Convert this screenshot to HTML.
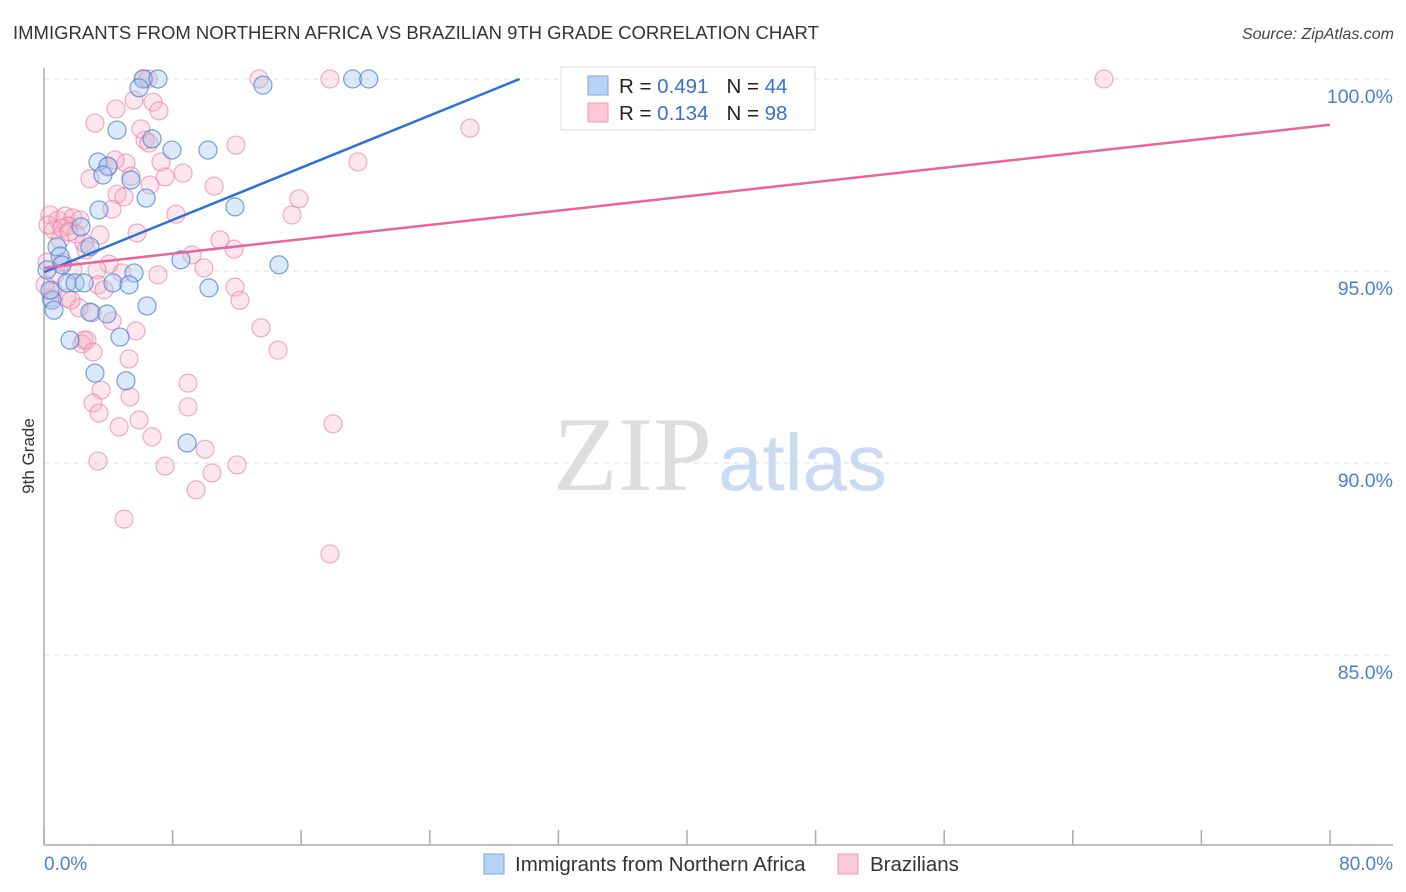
<!DOCTYPE html>
<html><head><meta charset="utf-8"><style>
body{margin:0;background:#fff;font-family:"Liberation Sans",sans-serif}
svg{display:block}
</style></head><body>
<svg id="chart" width="1406" height="892" viewBox="0 0 1406 892" xmlns="http://www.w3.org/2000/svg">
<text x="13" y="39" font-size="18.5" fill="#333" font-family="Liberation Sans">IMMIGRANTS FROM NORTHERN AFRICA VS BRAZILIAN 9TH GRADE CORRELATION CHART</text>
<text x="1394" y="39" font-size="16" fill="#444" font-style="italic" text-anchor="end">Source: ZipAtlas.com</text>
<g id="grid"></g>
<g>
<text x="553" y="490" font-size="106" fill="#ddd" font-family="Liberation Serif">ZIP</text>
<text x="718" y="490" font-size="80" fill="#c9daf2" font-family="Liberation Sans">atlas</text>
</g>
<line x1="44" y1="68" x2="44" y2="845" stroke="#aaa" stroke-width="1.5"/>
<line x1="44" y1="845" x2="1393" y2="845" stroke="#aaa" stroke-width="1.5"/>
<g id="ticks"></g>
<g id="ylabels"></g>
<g id="pinkPts"></g>
<g id="bluePts"></g>
<g id="trends"></g>
<text transform="translate(34,456) rotate(-90)" font-size="17" fill="#333" text-anchor="middle">9th Grade</text>
<text x="44" y="870" font-size="19" fill="#4a7fd4">0.0%</text>
<text x="1393" y="870" font-size="19" fill="#4a7fd4" text-anchor="end">80.0%</text>
<g>
<rect x="561" y="67" width="254" height="63" fill="#fff" stroke="#ddd"/>
<rect x="588" y="76" width="20" height="19" fill="#b8d3f5" stroke="#7aa6e3"/>
<rect x="588" y="103" width="20" height="19" fill="#fac8d6" stroke="#ec9ab4"/>
<text x="619" y="93" font-size="20.5" fill="#222">R = <tspan fill="#3a70cc">0.491</tspan><tspan dx="18">N = </tspan><tspan fill="#3a70cc">44</tspan></text>
<text x="619" y="120" font-size="20.5" fill="#222">R = <tspan fill="#3a70cc">0.134</tspan><tspan dx="18">N = </tspan><tspan fill="#3a70cc">98</tspan></text>
</g>
<g>
<rect x="484" y="854" width="20" height="20" fill="#b8d3f5" stroke="#7aa6e3"/>
<text x="515" y="871" font-size="20.5" fill="#333">Immigrants from Northern Africa</text>
<rect x="838" y="854" width="20" height="20" fill="#fac8d6" stroke="#ec9ab4"/>
<text x="870" y="871" font-size="20.5" fill="#333">Brazilians</text>
</g>
</svg>
<script>
const yTicks=[100,95,90,85];
const yTickLabels=["100.0%","95.0%","90.0%","85.0%"];
const xTicks=[0,8,16,24,32,40,48,56,64,72,80];
const blueX=[6.16,7.09,19.2,20.2,13.62,5.91,4.54,6.72,7.96,10.2,3.36,3.98,3.67,5.41,6.35,3.42,11.88,2.30,0.81,2.86,1.0,8.52,14.62,0.19,5.6,1.43,1.93,2.49,4.29,5.29,10.26,0.5,0.62,6.41,2.86,3.92,1.62,4.73,3.17,5.1,8.9,41.1,1.12,0.37];
const blueY=[100,100,100,100,99.84,99.77,98.67,98.44,98.15,98.15,97.84,97.73,97.5,97.37,96.9,96.59,96.67,96.15,95.63,95.63,95.39,95.29,95.16,95.03,94.95,94.69,94.69,94.69,94.69,94.64,94.56,94.24,93.98,94.09,93.93,93.88,93.2,93.28,92.34,92.14,90.52,99.97,95.16,94.5];
const pinkX=[6.22,6.47,13.38,17.79,65.94,6.78,4.48,5.6,7.15,3.17,26.5,11.94,6.28,6.53,6.03,7.28,5.1,4.42,3.98,19.53,2.86,5.41,7.53,8.65,6.59,10.58,4.54,4.98,15.86,4.23,8.21,15.43,0.37,0.87,1.31,1.8,2.24,0.62,1.49,1.99,2.49,5.79,10.95,11.82,1.0,0.25,1.12,1.56,9.21,4.04,3.3,1.8,4.85,7.09,9.95,3.36,3.73,11.88,0.44,1.43,12.19,2.18,2.99,4.23,5.72,13.5,2.49,2.36,2.67,3.05,5.29,14.56,8.96,3.55,5.35,3.05,8.96,3.42,5.91,17.98,4.67,6.72,3.36,10.02,7.53,10.45,12.01,9.46,4.98,17.79,0.56,0.06,1.18,2.61,3.48,0.19,0.68,1.68];
const pinkY=[100,100,100,100,100,99.4,99.22,99.45,99.17,98.85,98.72,98.28,98.41,98.33,98.7,97.84,97.81,97.89,97.71,97.84,97.4,97.47,97.45,97.55,97.24,97.21,97.0,96.93,96.88,96.61,96.48,96.46,96.46,96.33,96.43,96.38,96.33,96.07,96.17,95.96,95.73,95.99,95.81,95.57,95.81,96.2,96.12,96.02,95.42,95.18,95.03,95.03,94.95,94.9,95.08,94.64,94.51,94.58,94.3,94.3,94.24,94.04,93.91,93.7,93.44,93.52,93.2,93.1,93.2,92.89,92.71,92.94,92.08,91.9,91.72,91.56,91.46,91.3,91.12,91.02,90.94,90.68,90.05,90.36,89.92,89.74,89.95,89.3,88.54,87.63,94.5,94.64,95.23,95.55,95.94,95.23,94.9,94.24];
const blueTrend=[94.97,0.17];
const pinkTrend=[95.08,0.0466];
const NS="http://www.w3.org/2000/svg";
function sx(v){return 44+v/80*1286;}
function sy(v){return 79+(100-v)*38.4;}
function mk(tag,attrs,parent){const e=document.createElementNS(NS,tag);for(const k in attrs)e.setAttribute(k,attrs[k]);parent.appendChild(e);return e;}
const grid=document.getElementById('grid'),yl=document.getElementById('ylabels'),tk=document.getElementById('ticks');
yTicks.forEach((t,i)=>{
 const l=mk('line',{x1:44,x2:1393,y1:sy(t),y2:sy(t),stroke:'#ddd','stroke-dasharray':'5,5'},grid);
 
 
 const tx=mk('text',{x:1393,y:sy(t)+24,'font-size':19.5,fill:'#4a7fd4','text-anchor':'end'},yl);
 tx.textContent=yTickLabels[i];
 
 
});
xTicks.forEach(t=>{
 const l=mk('line',{x1:sx(t),x2:sx(t),y1:830,y2:845,stroke:'#aaa','stroke-width':1.5},tk);
 
 
});
function pts(xs,ys,g,fill,stroke,name){
 xs.forEach((x,i)=>{
  const c=mk('circle',{cx:sx(x),cy:sy(ys[i]),r:9,fill:fill,stroke:stroke,'stroke-width':1.2},g);
  
  
 });
}
pts(pinkX,pinkY,document.getElementById('pinkPts'),'rgba(248,178,198,0.32)','rgba(230,120,155,0.6)','brazilian-point');
pts(blueX,blueY,document.getElementById('bluePts'),'rgba(160,196,240,0.38)','rgba(70,130,215,0.75)','northern-africa-point');
const tr=document.getElementById('trends');
const bEnd=Math.min(80,(100-blueTrend[0])/blueTrend[1]);
const bl=mk('line',{x1:sx(0),y1:sy(blueTrend[0]),x2:sx(bEnd),y2:sy(blueTrend[0]+blueTrend[1]*bEnd),stroke:'#2f6fd6','stroke-width':2.5},tr);


const pl=mk('line',{x1:sx(0),y1:sy(pinkTrend[0]),x2:sx(80),y2:sy(pinkTrend[0]+pinkTrend[1]*80),stroke:'#e8669a','stroke-width':2.5},tr);


</script>
</body></html>
